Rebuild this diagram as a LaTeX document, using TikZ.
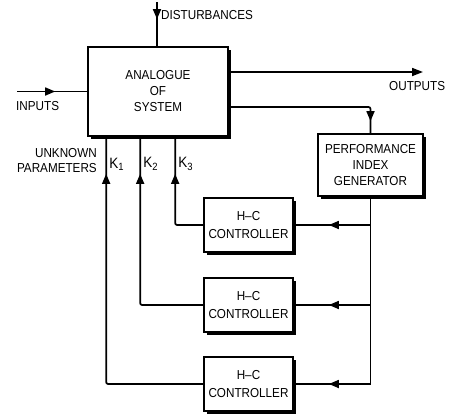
\documentclass[tikz,border=0pt]{standalone}
\usepackage{fontspec}
\setmainfont{Liberation Sans}[FakeStretch=0.9]
\usetikzlibrary{arrows.meta,positioning,shadows,decorations.markings,calc}
\tikzset{
  block/.style={draw,line width=1.7pt,fill=white,align=center,inner sep=1pt,
    font=\fontsize{13}{16}\selectfont,
    drop shadow={shadow xshift=3pt,shadow yshift=-3pt,fill=black,opacity=1}},
  ctrl/.style={block,minimum width=89pt,minimum height=54pt},
  wire/.style={line width=1.7pt,rounded corners=2pt},
  midarrow/.style={postaction={decorate},decoration={markings,
    mark=at position #1 with {\arrow{Triangle[length=10pt,width=8pt]}}}},
  lbl/.style={font=\fontsize{13}{15}\selectfont,inner sep=0pt,align=left},
  klbl/.style={font=\fontsize{15}{16}\selectfont,inner sep=0pt}
}

\begin{document}
\begin{tikzpicture}[x=1pt,y=-1pt]
  \useasboundingbox (0,0) rectangle (450,416);
  % blocks
  \node[block,minimum width=140pt,minimum height=89pt] (sys) at (158,91.5)
    {ANALOGUE\\OF\\SYSTEM};
  \node[block,minimum width=105pt,minimum height=62pt] (pig) at (370.5,165)
    {PERFORMANCE\\INDEX\\GENERATOR};
  \node[ctrl] (hc1) at (248.5,225) {H--C\\[2pt]CONTROLLER};
  \node[ctrl] (hc2) at (248.5,305) {H--C\\[2pt]CONTROLLER};
  \node[ctrl] (hc3) at (248.5,384) {H--C\\[2pt]CONTROLLER};

  \coordinate (dist) at (157,2);
  \coordinate (inp) at (17,91.5);
  \coordinate (out) at (423,72);
  \coordinate (tap) at (228,107);
  \path (sys.south west) ++(19,0) coordinate (k1)
        (sys.south west) ++(53,0) coordinate (k2)
        (sys.south west) ++(88,0) coordinate (k3);

  % texts
  \node[lbl,anchor=west] (tdist) at (161,15) {DISTURBANCES};
  \node[lbl,anchor=west] (tinp) at (16,106) {INPUTS};
  \node[lbl,anchor=west] (tout) at (389,86) {OUTPUTS};
  \node[lbl,anchor=east,align=right] (tpar) at (97,161) {UNKNOWN\hspace{14pt}\\PARAMETERS};
  \node[klbl,anchor=west] (tk1) at ($(k1|-0,164)+(3,0)$) {K\textsubscript{1}};
  \node[klbl,anchor=west] (tk2) at ($(k2|-0,164)+(3,0)$) {K\textsubscript{2}};
  \node[klbl,anchor=west] (tk3) at ($(k3|-0,164)+(3,0)$) {K\textsubscript{3}};

  % signals
  \draw[wire,midarrow=-27pt] (dist) -- (sys.north -| dist);
  \draw[wire,midarrow=-32pt] (inp) -- (sys.west);
  \draw[wire,-{Triangle[length=11pt,width=8pt]}] (sys.east |- out) -- (out);
  \draw[wire,midarrow=-12pt] (tap) -| (pig.north);
  \draw[wire] (pig.south) -- (pig.south |- hc3);
  \foreach \i/\k in {1/k3,2/k2,3/k1}{
    \draw[wire,midarrow=-35pt] (pig.south |- hc\i) -- (hc\i.east);
    \draw[wire,midarrow=-37pt] (hc\i.west) -| (\k);
  }
\end{tikzpicture}
\end{document}
